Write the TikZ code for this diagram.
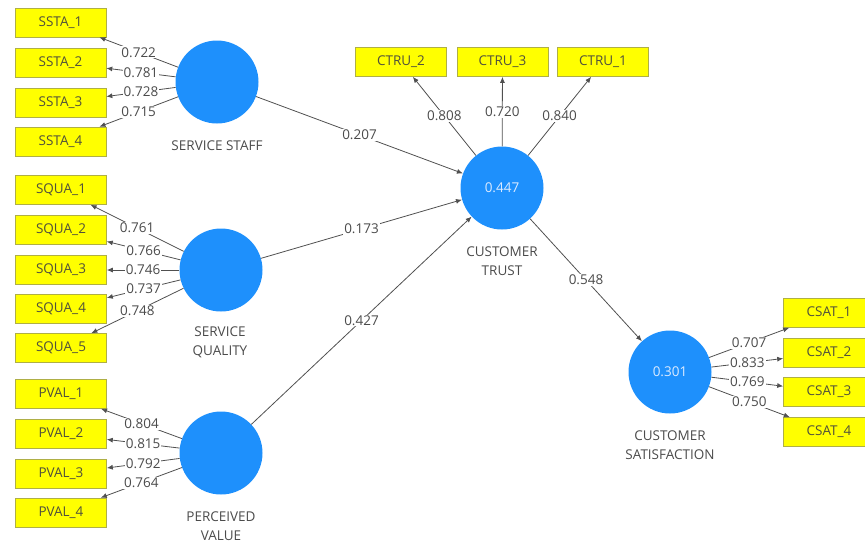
\documentclass[tikz,border=0pt]{standalone}
\usepackage{fontspec}
\setmainfont{Open Sans}
\usetikzlibrary{arrows.meta}
\definecolor{lvblue}{RGB}{30,144,252}
\definecolor{mvyellow}{RGB}{255,255,0}
\definecolor{mvline}{RGB}{175,175,70}
\definecolor{mvtext}{RGB}{80,80,60}
\definecolor{edgegray}{RGB}{80,80,80}
\definecolor{txtgray}{RGB}{75,75,75}
\begin{document}
\begin{tikzpicture}[x=1pt,y=-1pt,
    lv/.style={circle,fill=lvblue,minimum size=83pt,inner sep=0pt,
      text={rgb,255:red,220;green,235;blue,255},font=\fontsize{13.5}{15}\selectfont},
    mv/.style={rectangle,fill=mvyellow,draw=mvline,line width=0.6pt,
      minimum width=91pt,minimum height=29pt,inner sep=0pt,
      text=mvtext,font=\fontsize{13.5}{15}\selectfont},
    lvname/.style={align=center,text=txtgray,font=\fontsize{13.5}{19}\selectfont},
    ld/.style={fill=white,inner sep=1pt,text=txtgray,font=\fontsize{13.5}{15}\selectfont}]
      \useasboundingbox (0,0) rectangle (865,542);
      \path
        (217,82) node[lv] (SS){}
        (221,270) node[lv] (SQ){}
        (221,453) node[lv] (PV){}
        (502,188) node[lv] (CT){0.447}
        (670,372) node[lv] (CS){0.301};
      \path
        (217,146) node[lvname] (SSname){SERVICE STAFF}
        (220,342) node[lvname] (SQname){SERVICE\\QUALITY}
        (221,526) node[lvname] (PVname){PERCEIVED\\VALUE}
        (502,261) node[lvname] (CTname){CUSTOMER\\TRUST}
        (670,445) node[lvname] (CSname){CUSTOMER\\SATISFACTION};
      \path
        (60.5,22.5) node[mv] (ssta1){SSTA\_1}
        (60.5,62.5) node[mv] (ssta2){SSTA\_2}
        (60.5,102.5) node[mv] (ssta3){SSTA\_3}
        (60.5,141.5) node[mv] (ssta4){SSTA\_4}
        (61,190) node[mv] (squa1){SQUA\_1}
        (61,230) node[mv] (squa2){SQUA\_2}
        (61,270) node[mv] (squa3){SQUA\_3}
        (61,309) node[mv] (squa4){SQUA\_4}
        (61,348) node[mv] (squa5){SQUA\_5}
        (61,394) node[mv] (pval1){PVAL\_1}
        (61,434) node[mv] (pval2){PVAL\_2}
        (61,474) node[mv] (pval3){PVAL\_3}
        (61,512.5) node[mv] (pval4){PVAL\_4}
        (401,62) node[mv] (ctru2){CTRU\_2}
        (502.5,62) node[mv] (ctru3){CTRU\_3}
        (603,62) node[mv] (ctru1){CTRU\_1}
        (829,313) node[mv] (csat1){CSAT\_1}
        (829,353) node[mv] (csat2){CSAT\_2}
        (829,392) node[mv] (csat3){CSAT\_3}
        (829,432) node[mv] (csat4){CSAT\_4};
      \begin{scope}[-{Latex[length=6pt,width=5pt]},draw=edgegray,line width=0.8pt]
        \draw (SS) to node[ld]{0.722} (ssta1);
        \draw (SS) to node[ld]{0.781} (ssta2);
        \draw (SS) to node[ld]{0.728} (ssta3);
        \draw (SS) to node[ld]{0.715} (ssta4);
        \draw (SQ) to node[ld]{0.761} (squa1);
        \draw (SQ) to node[ld]{0.766} (squa2);
        \draw (SQ) to node[ld]{0.746} (squa3);
        \draw (SQ) to node[ld]{0.737} (squa4);
        \draw (SQ) to node[ld]{0.748} (squa5);
        \draw (PV) to node[ld]{0.804} (pval1);
        \draw (PV) to node[ld]{0.815} (pval2);
        \draw (PV) to node[ld]{0.792} (pval3);
        \draw (PV) to node[ld]{0.764} (pval4);
        \draw (CT) to node[ld]{0.808} (ctru2);
        \draw (CT) to node[ld]{0.720} (ctru3);
        \draw (CT) to node[ld]{0.840} (ctru1);
        \draw (CS) to node[ld]{0.707} (csat1);
        \draw (CS) to node[ld]{0.833} (csat2);
        \draw (CS) to node[ld]{0.769} (csat3);
        \draw (CS) to node[ld]{0.750} (csat4);
        \draw (SS) to node[ld]{0.207} (CT);
        \draw (SQ) to node[ld]{0.173} (CT);
        \draw (PV) to node[ld]{0.427} (CT);
        \draw (CT) to node[ld]{0.548} (CS);
      \end{scope}
    \end{tikzpicture}
\end{document}
